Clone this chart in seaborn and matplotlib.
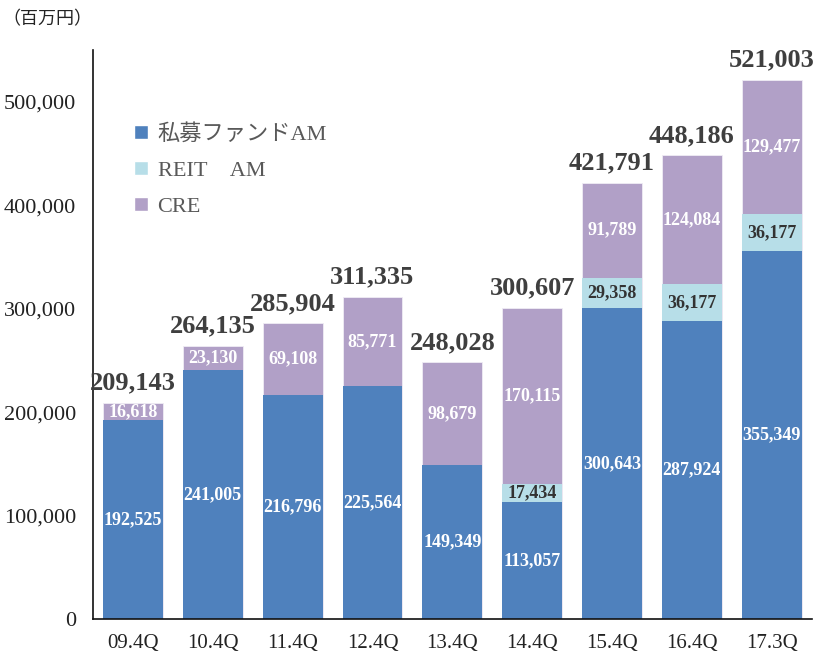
import matplotlib
matplotlib.use("Agg")
import matplotlib.pyplot as plt
from matplotlib.patches import Patch
import seaborn as sns
import pandas as pd
import numpy as np

categories = ["09.4Q", "10.4Q", "11.4Q", "12.4Q", "13.4Q", "14.4Q", "15.4Q", "16.4Q", "17.3Q"]
am_values = [192525, 241005, 216796, 225564, 149349, 113057, 300643, 287924, 355349]
reit_values = [0, 0, 0, 0, 0, 17434, 29358, 36177, 36177]
cre_values = [16618, 23130, 69108, 85771, 98679, 170115, 91789, 124084, 129477]
totals = [209143, 264135, 285904, 311335, 248028, 300607, 421791, 448186, 521003]
series_names = ["私募ファンドAM", "REIT　AM", "CRE"]
yticks = [0, 100000, 200000, 300000, 400000, 500000]

c_am = "#4F81BD"
c_reit = "#B7DEE8"
c_cre = "#B1A0C7"

sns.set_style("white")
plt.rcParams["font.family"] = ["Liberation Serif", "Noto Sans CJK JP"]

df = pd.DataFrame({"cat": categories, "am": am_values, "reit": reit_values, "cre": cre_values})
df["s2"] = df["am"] + df["reit"]
df["s3"] = df["s2"] + df["cre"]

fig = plt.figure(figsize=(8.13, 6.54), dpi=100)
ax = fig.add_axes([0.1144, 0.0535, 0.884, 0.870])

sns.barplot(data=df, x="cat", y="s3", order=categories, color=c_cre, width=0.75,
            saturation=1, ax=ax, edgecolor="#F0ECF4", linewidth=0.6)
sns.barplot(data=df, x="cat", y="s2", order=categories, color=c_reit, width=0.75,
            saturation=1, ax=ax, linewidth=0)
sns.barplot(data=df, x="cat", y="am", order=categories, color=c_am, width=0.75,
            saturation=1, ax=ax, linewidth=0)

ax.set_xlim(-0.5, 8.5)
ax.set_ylim(0, 550000)
ax.set_yticks(yticks)
ax.set_yticklabels([f"{v:,}" for v in yticks], fontsize=16, color="#222222")
ax.set_xticks(range(len(categories)))
ax.set_xticklabels(categories, fontsize=15, color="#222222")
ax.set_xlabel("")
ax.set_ylabel("")
ax.tick_params(axis="x", which="major", length=0, pad=11)
ax.set_xticks(np.arange(0.5, 8.5, 1.0), minor=True)
ax.tick_params(axis="x", which="minor", direction="in", length=5, width=1, color="#222222")
ax.tick_params(axis="y", which="major", direction="in", length=5, width=1, color="#222222", pad=12)

for s in ["top", "right"]:
    ax.spines[s].set_visible(False)
for s in ["left", "bottom"]:
    ax.spines[s].set_color("#111111")
    ax.spines[s].set_linewidth(1.2)

lab_kw = dict(ha="center", va="center", fontsize=13, fontweight="bold")
for i in range(len(categories)):
    a, r, c = am_values[i], reit_values[i], cre_values[i]
    ax.text(i, a / 2, f"{a:,}", color="white", **lab_kw)
    if r > 0:
        ax.text(i, a + r / 2, f"{r:,}", color="#333333", **lab_kw)
    ax.text(i, a + r + c / 2, f"{c:,}", color="white", **lab_kw)
    ax.annotate(f"{totals[i]:,}", xy=(i, a + r + c), xytext=(0, 6), textcoords="offset points",
                ha="center", va="bottom", fontsize=19, fontweight="bold", color="#3F3F3F")

handles = [Patch(facecolor=c_am), Patch(facecolor=c_reit), Patch(facecolor=c_cre)]
leg = ax.legend(handles, series_names, loc="upper left", bbox_to_anchor=(0.045, 0.885),
                frameon=False, fontsize=16, handlelength=0.6, handleheight=0.6,
                handletextpad=0.45, labelspacing=0.72, borderaxespad=0)
for t in leg.get_texts():
    t.set_color("#595959")

fig.text(0.003, 0.970, "（百万円）", fontsize=13, color="#222222",
         family=["Noto Sans CJK JP", "Liberation Serif"], va="center", ha="left")

fig.savefig("out.png", dpi=100)
